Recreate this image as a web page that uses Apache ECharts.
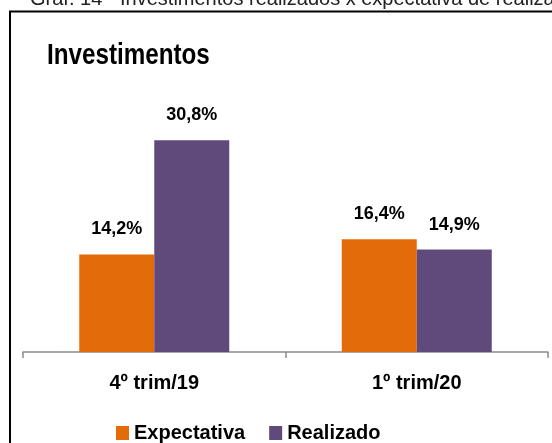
<!DOCTYPE html>
<html>
<head>
<meta charset="utf-8">
<script src="https://cdn.jsdelivr.net/npm/echarts@6/dist/echarts.min.js"></script>
<style>
  html, body { margin: 0; padding: 0; background: #fff; }
  #chart { width: 552px; height: 443px; }
</style>
</head>
<body>
<div id="chart"></div>
<script>
const categories = ['4º trim/19', '1º trim/20']
const expectativa = [14.2, 16.4]
const realizado = [30.8, 14.9]
const seriesNames = ['Expectativa', 'Realizado']

const sans = '"Liberation Sans", Arial, sans-serif'
const fmt = p => p.value.toFixed(1).replace('.', ',') + '%'

const chart = echarts.init(document.getElementById('chart'))

const barLabel = {
  show: true,
  position: 'top',
  distance: 16,
  formatter: fmt,
  fontFamily: sans,
  fontWeight: 'bold',
  fontSize: 18,
  color: '#000'
}

chart.setOption({
  animation: false,
  backgroundColor: '#fff',
  graphic: [
    {
      type: 'text',
      x: 30,
      y: -11,
      style: {
        text: 'Gráf. 14 - Investimentos realizados x expectativa de realização',
        font: '20px ' + sans,
        fill: '#222'
      }
    },
    {
      type: 'rect',
      shape: { x: 10, y: 11.5, width: 700, height: 600 },
      style: { fill: 'none', stroke: '#000', lineWidth: 2 }
    },
    {
      // narrow bold title: squeeze a regular bold face horizontally
      type: 'text',
      x: 47,
      y: 41,
      scaleX: 0.835,
      style: {
        text: 'Investimentos',
        font: 'bold 29px ' + sans,
        fill: '#000'
      }
    }
  ],
  grid: {
    left: 23,
    right: 4,
    top: 77,
    bottom: 91
  },
  legend: {
    left: 111,
    top: 418,
    itemWidth: 13,
    itemHeight: 14,
    itemGap: 24,
    icon: 'rect',
    textStyle: {
      fontFamily: sans,
      fontWeight: 'bold',
      fontSize: 20,
      lineHeight: 20,
      color: '#000'
    },
    data: seriesNames
  },
  xAxis: {
    type: 'category',
    data: categories,
    axisLine: { lineStyle: { color: '#8c8c8c', width: 1.5 } },
    axisTick: { show: true, length: 6, lineStyle: { color: '#8c8c8c', width: 1.5 } },
    axisLabel: {
      margin: 21,
      fontFamily: sans,
      fontWeight: 'bold',
      fontSize: 20,
      color: '#000'
    }
  },
  yAxis: {
    type: 'value',
    min: 0,
    max: 40,
    show: false,
    splitLine: { show: false }
  },
  series: [
    {
      name: seriesNames[0],
      type: 'bar',
      data: expectativa,
      barWidth: 75,
      barGap: '0%',
      itemStyle: { color: '#E36C0A' },
      label: barLabel
    },
    {
      name: seriesNames[1],
      type: 'bar',
      data: realizado,
      barWidth: 75,
      itemStyle: { color: '#604A7B' },
      label: barLabel
    }
  ]
})
</script>
</body>
</html>
